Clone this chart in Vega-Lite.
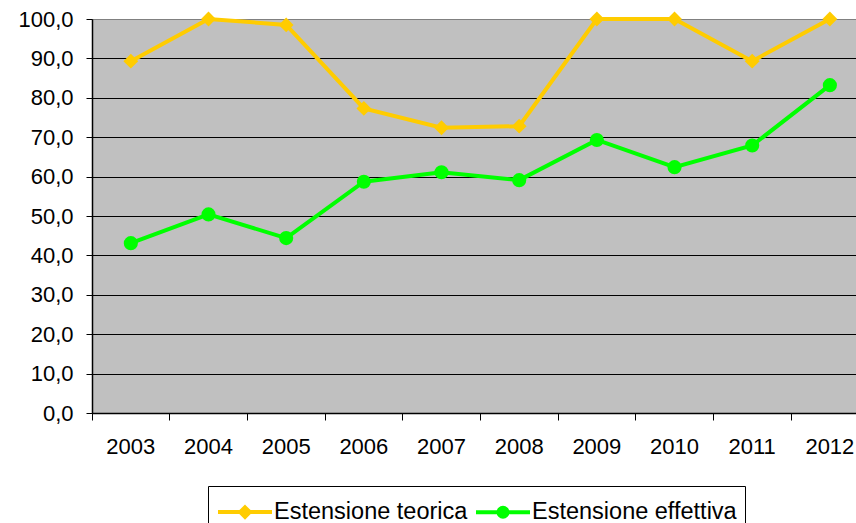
{
  "$schema": "https://vega.github.io/schema/vega-lite/v6.json",
  "width": 764,
  "height": 394,
  "autosize": {"type": "none"},
  "padding": {"left": 92, "top": 19, "right": 0, "bottom": 110},
  "background": "white",
  "config": {
    "view": {"fill": "#C0C0C0", "stroke": "#808080", "strokeWidth": 1},
    "font": "Liberation Sans"
  },
  "data": {
    "values": [
      {"year": "2003", "series": "Estensione teorica", "value": 89.3},
      {"year": "2004", "series": "Estensione teorica", "value": 100},
      {"year": "2005", "series": "Estensione teorica", "value": 98.5},
      {"year": "2006", "series": "Estensione teorica", "value": 77.3},
      {"year": "2007", "series": "Estensione teorica", "value": 72.4},
      {"year": "2008", "series": "Estensione teorica", "value": 72.8},
      {"year": "2009", "series": "Estensione teorica", "value": 100},
      {"year": "2010", "series": "Estensione teorica", "value": 100},
      {"year": "2011", "series": "Estensione teorica", "value": 89.3},
      {"year": "2012", "series": "Estensione teorica", "value": 100},
      {"year": "2003", "series": "Estensione effettiva", "value": 43.1},
      {"year": "2004", "series": "Estensione effettiva", "value": 50.4},
      {"year": "2005", "series": "Estensione effettiva", "value": 44.4},
      {"year": "2006", "series": "Estensione effettiva", "value": 58.7},
      {"year": "2007", "series": "Estensione effettiva", "value": 61.1},
      {"year": "2008", "series": "Estensione effettiva", "value": 59.1},
      {"year": "2009", "series": "Estensione effettiva", "value": 69.3},
      {"year": "2010", "series": "Estensione effettiva", "value": 62.4},
      {"year": "2011", "series": "Estensione effettiva", "value": 67.9},
      {"year": "2012", "series": "Estensione effettiva", "value": 83.2}
    ]
  },
  "encoding": {
    "x": {
      "field": "year",
      "type": "ordinal",
      "scale": {"type": "band", "range": [0, 776.7], "paddingInner": 0, "paddingOuter": 0},
      "axis": {
        "title": null,
        "bandPosition": 0,
        "tickSize": 7,
        "tickColor": "black",
        "tickWidth": 1,
        "domainColor": "black",
        "domainWidth": 1.5,
        "labelFont": "Liberation Sans",
        "labelFontSize": 22,
        "labelColor": "black",
        "labelPadding": 16,
        "labelAngle": 0,
        "grid": false
      }
    },
    "y": {
      "field": "value",
      "type": "quantitative",
      "scale": {"domain": [0, 100], "nice": false},
      "axis": {
        "title": null,
        "values": [0, 10, 20, 30, 40, 50, 60, 70, 80, 90, 100],
        "labelExpr": "replace(format(datum.value, '.1f'), '.', ',')",
        "tickSize": 6,
        "tickColor": "black",
        "tickWidth": 1,
        "domainColor": "black",
        "domainWidth": 1.5,
        "grid": true,
        "gridColor": {"condition": {"test": "datum.value === 100", "value": "#808080"}, "value": "black"},
        "gridWidth": 1,
        "gridOpacity": 1,
        "labelFont": "Liberation Sans",
        "labelFontSize": 22,
        "labelColor": "black",
        "labelPadding": 13
      }
    },
    "color": {
      "field": "series",
      "type": "nominal",
      "scale": {"domain": ["Estensione teorica", "Estensione effettiva"], "range": ["#FFCC00", "#00FF00"]},
      "legend": {
        "title": null,
        "orient": "none",
        "legendX": 116,
        "legendY": 467,
        "direction": "horizontal",
        "strokeColor": "black",
        "fillColor": "white",
        "padding": 8,
        "labelFont": "Liberation Sans",
        "labelFontSize": 23.5,
        "labelColor": "black",
        "labelLimit": 0,
        "labelOffset": 22,
        "columnPadding": 0,
        "symbolSize": 1024,
        "symbolStrokeWidth": 4,
        "encode": {
          "symbols": {
            "update": {
              "shape": {"signal": "datum.value === 'Estensione teorica' ? 'M-1,0H2.375M0.6875,-0.3L0.9875,0L0.6875,0.3L0.3875,0Z' : 'M-1,0H2.375M0.4075,0A0.28,0.28 0 1,0 0.9675,0A0.28,0.28 0 1,0 0.4075,0Z'"},
              "fill": {"signal": "scale('color', datum.value)"},
              "stroke": {"signal": "scale('color', datum.value)"},
              "strokeWidth": {"value": 4},
              "opacity": {"value": 1},
              "fillOpacity": {"value": 1},
              "strokeOpacity": {"value": 1}
            }
          }
        }
      }
    }
  },
  "layer": [
    {"mark": {"type": "line", "strokeWidth": 4}},
    {
      "transform": [{"filter": "datum.series === 'Estensione teorica'"}],
      "mark": {"type": "point", "shape": "diamond", "filled": true, "size": 220, "opacity": 1}
    },
    {
      "transform": [{"filter": "datum.series === 'Estensione effettiva'"}],
      "mark": {"type": "point", "shape": "circle", "filled": true, "size": 200, "opacity": 1}
    }
  ]
}
